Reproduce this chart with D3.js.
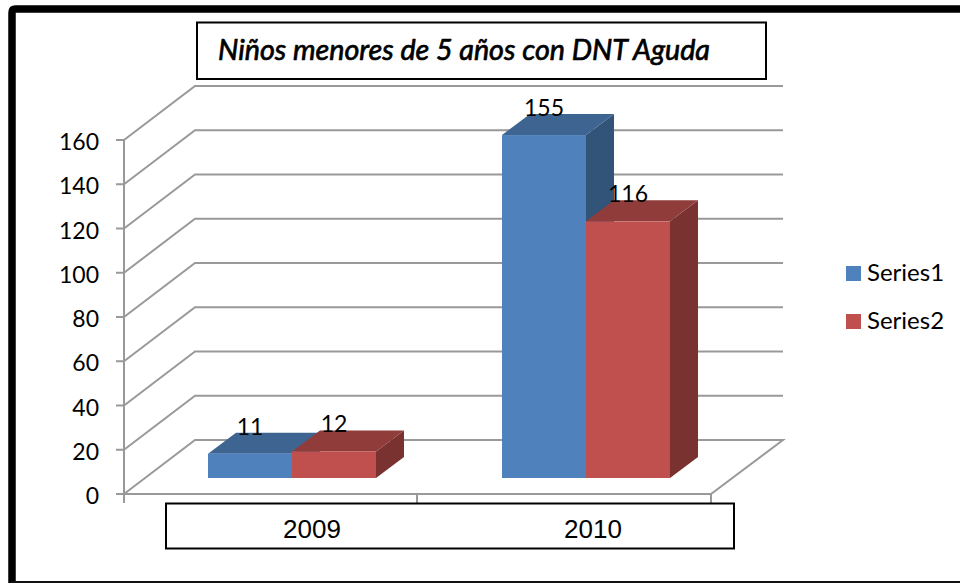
<!DOCTYPE html>
<html><head><meta charset="utf-8">
<style>html,body{margin:0;padding:0;background:#fff;overflow:hidden}svg{display:block}</style>
<script src="https://cdn.jsdelivr.net/npm/d3@7/dist/d3.min.js"></script></head>
<body><svg id="c" width="960" height="583"></svg>
<script>
const categories = ["2009", "2010"];
const seriesNames = ["Series1", "Series2"];
const series1 = [11, 155];
const series2 = [12, 116];
const yTicks = [0, 20, 40, 60, 80, 100, 120, 140, 160];
const titleText = "Niños menores de 5 años con DNT Aguda";

const svg = d3.select("#c");
const colors = {front:["#4f81bd","#c0504d"], top:["#3e6491","#8f3c3a"], side:["#335479","#7a3230"]};
const calibri = "Lato, Carlito, 'Open Sans', sans-serif";

// scales: wall height and floor position
const y = d3.scaleLinear().domain([0,160]).range([354,0]);
const frontLeft = 124, frontBase = 140, depthX = 71, depthY = -54;
const yAxisPos = v => frontBase + y(v);

// outer border
svg.append("path").attr("d","M12,587V12.5Q12,9 15.5,9H964").attr("fill","none").attr("stroke","#000").attr("stroke-width",7.5);
svg.append("line").attr("x1",10).attr("x2",960).attr("y1",582).attr("y2",582).attr("stroke","#111").attr("stroke-width",2);

const grid = "#999";
const g = svg.append("g").attr("fill","none").attr("stroke",grid).attr("stroke-width",2);
yTicks.forEach(t=>{
  const py = yAxisPos(t);
  if(t===0) return;
  g.append("path").attr("d",`M${frontLeft},${py}L${frontLeft+depthX},${py+depthY}H783`);
  g.append("line").attr("x1",frontLeft-8).attr("x2",frontLeft).attr("y1",py).attr("y2",py);
});
const p0 = yAxisPos(0);
g.append("path").attr("d",`M${frontLeft},${p0}L${frontLeft+depthX},${p0+depthY}H783L711,${p0}Z`);
g.append("line").attr("x1",frontLeft-8).attr("x2",frontLeft).attr("y1",p0).attr("y2",p0);
g.append("line").attr("x1",frontLeft).attr("x2",frontLeft).attr("y1",yAxisPos(160)).attr("y2",p0+9);
[417,711].forEach(x=>g.append("line").attr("x1",x).attr("x2",x).attr("y1",p0).attr("y2",p0+9));

// y labels
svg.append("g").selectAll("text").data(yTicks).join("text")
  .attr("x",99).attr("y",d=>yAxisPos(d)+10).attr("text-anchor","end")
  .attr("font-family",calibri).attr("font-size",23).attr("fill","#000").text(d=>d);

// bars
const barBase = 478, dx = 28, dy = -21, barW = 84;
const barX0 = {"2009":208, "2010":502};
const barH = d3.scaleLinear().domain([0,160]).range([0,354]);
const bars = [];
categories.forEach((c,i)=>{
  [series1[i],series2[i]].forEach((v,s)=>bars.push({c,s,v,x:barX0[c]+s*barW}));
});
const bg = svg.append("g");
bars.forEach(b=>{
  const top = barBase - barH(b.v);
  bg.append("path").attr("fill",colors.side[b.s])
    .attr("d",`M${b.x+barW},${top}l${dx},${dy}V${barBase+dy}l${-dx},${-dy}Z`);
  bg.append("path").attr("fill",colors.top[b.s])
    .attr("d",`M${b.x},${top}l${dx},${dy}h${barW}l${-dx},${-dy}Z`);
  bg.append("rect").attr("x",b.x).attr("y",top).attr("width",barW).attr("height",barBase-top).attr("fill",colors.front[b.s]);
});
// value labels
svg.append("g").selectAll("text").data(bars).join("text")
  .attr("x",d=>d.x+42).attr("y",d=>barBase-barH(d.v)-19).attr("text-anchor","middle")
  .attr("font-family",calibri).attr("font-size",23).attr("fill","#000").text(d=>d.v);

// title box
svg.append("rect").attr("x",197).attr("y",22.5).attr("width",569).attr("height",56.5).attr("fill","#fff").attr("stroke","#000").attr("stroke-width",2);
svg.append("text").attr("x",218).attr("y",60).attr("font-family","Lato, 'Noto Sans', sans-serif").attr("font-style","italic")
  .attr("font-size",29).attr("textLength",492).attr("lengthAdjust","spacingAndGlyphs").attr("fill","#000")
  .attr("stroke","#000").attr("stroke-width",0.7).attr("stroke-linejoin","round").text(titleText);

// category box
svg.append("rect").attr("x",166).attr("y",503.5).attr("width",568).attr("height",45).attr("fill","#fff").attr("stroke","#000").attr("stroke-width",2);
svg.append("g").selectAll("text").data(categories).join("text")
  .attr("x",(d,i)=>[312,593][i]).attr("y",538).attr("text-anchor","middle")
  .attr("font-family","'Liberation Sans', Arial, sans-serif").attr("font-size",26).attr("fill","#000").text(d=>d);

// legend
const lg = svg.append("g").selectAll("g").data(seriesNames).join("g");
lg.append("rect").attr("x",846).attr("y",(d,i)=>266+i*48).attr("width",15).attr("height",15).attr("fill",(d,i)=>colors.front[i]);
lg.append("text").attr("x",867).attr("y",(d,i)=>281+i*48).attr("font-family",calibri).attr("font-size",24).attr("fill","#000").text(d=>d);
</script></body></html>
